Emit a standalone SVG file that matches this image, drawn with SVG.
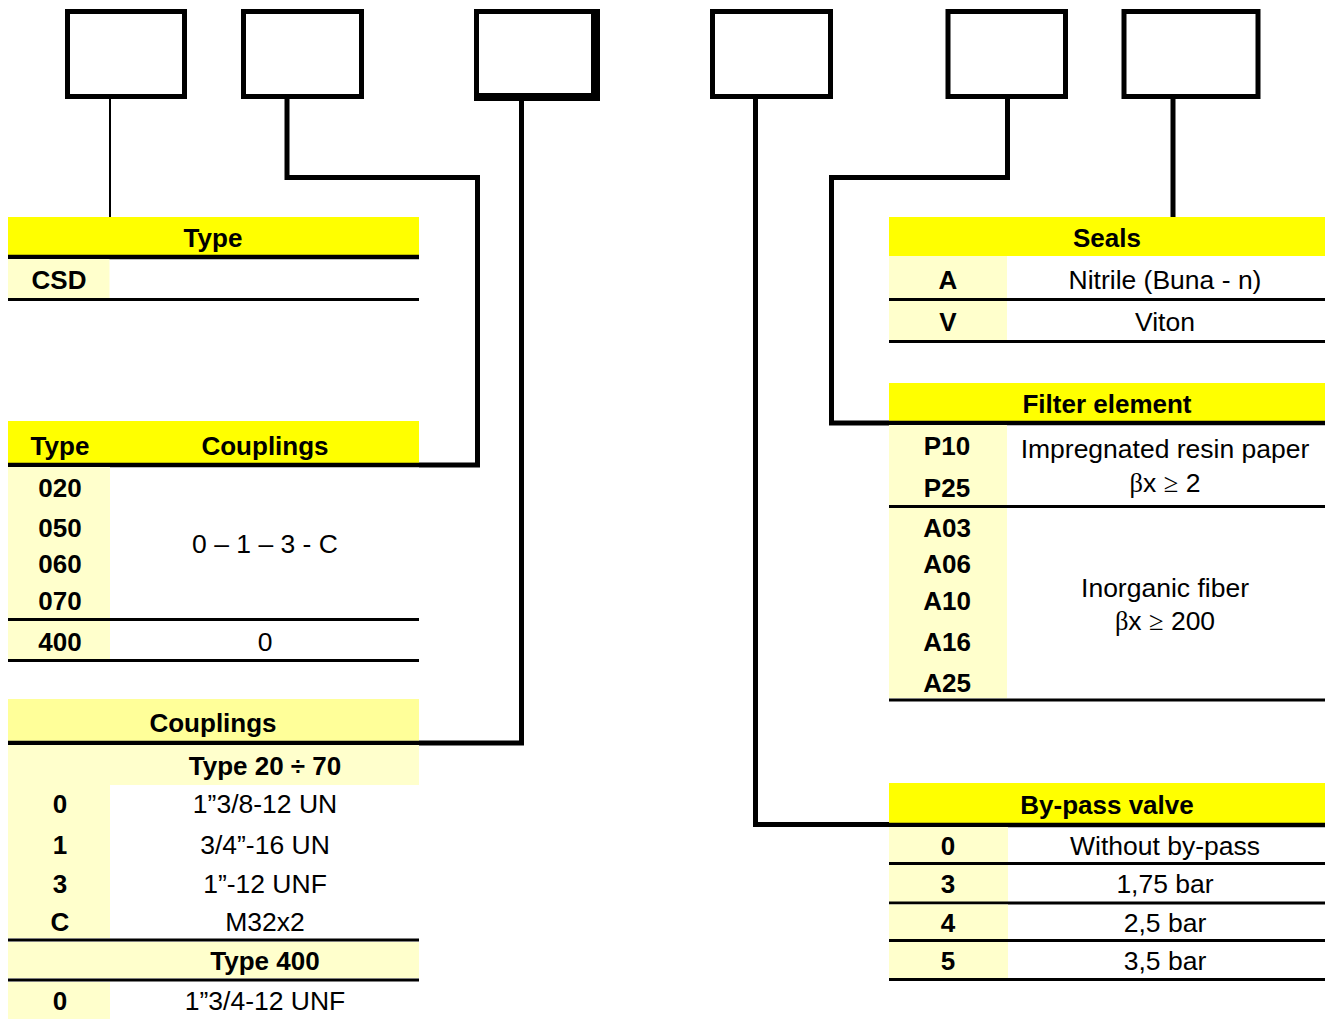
<svg xmlns="http://www.w3.org/2000/svg" width="1325" height="1019" viewBox="0 0 1325 1019">
<style>
.box{fill:#fff;stroke:#000;stroke-width:5}
.conn{fill:none;stroke:#000;stroke-width:5;stroke-linejoin:miter}
.thin{fill:none;stroke:#000;stroke-width:2}
.hdr{fill:#FFFF00}
.hdr2{fill:#FFFF99}
.key{fill:#FFFFCC}
.rule{stroke:#000;stroke-width:3}
.rule2{stroke:#000;stroke-width:4.5}
.t{font-family:"Liberation Sans",Arial,sans-serif;font-size:26.5px;fill:#000;text-anchor:middle}
.b{font-weight:bold;font-size:26px}
.s{font-family:"Liberation Serif","Times New Roman",serif}
</style>
<rect width="1325" height="1019" fill="#fff"/>

<g id="connectors">
<line class="thin" x1="110" y1="99" x2="110" y2="217"/>
<path class="conn" d="M287,99 V177.5 H477.5 V465 H419"/>
<path class="conn" d="M521.5,101 V743 H419"/>
<path class="conn" d="M755.5,99 V824.5 H889"/>
<path class="conn" d="M1007.5,99 V177.5 H831.5 V423 H889"/>
<path class="conn" d="M1173,99 V217"/>
</g>

<g id="box1"><rect class="box" x="67.5" y="11.5" width="117" height="85"/></g>
<g id="box2"><rect class="box" x="243.5" y="11.5" width="118" height="85"/></g>
<g id="box3"><rect x="474" y="9" width="126" height="92" fill="#000"/><rect x="479" y="14" width="112" height="79" fill="#fff"/></g>
<g id="box4"><rect class="box" x="712.5" y="11.5" width="118" height="85"/></g>
<g id="box5"><rect class="box" x="948" y="11.5" width="117.5" height="85"/></g>
<g id="box6"><rect class="box" x="1124" y="11.5" width="134" height="85"/></g>

<g id="table-type">
<rect class="hdr" x="8" y="217" width="411" height="38"/>
<line class="rule2" x1="8" y1="257" x2="419" y2="257"/>
<rect class="key" x="8" y="259" width="101.5" height="39"/>
<line class="rule" x1="8" y1="299.5" x2="419" y2="299.5"/>
<text class="t b" x="213" y="247">Type</text>
<text class="t b" x="59" y="289">CSD</text>
</g>

<g id="table-type-couplings">
<rect class="hdr" x="8" y="421" width="411" height="42"/>
<line class="rule2" x1="8" y1="465" x2="419" y2="465"/>
<rect class="key" x="8" y="467" width="102" height="151"/>
<line class="rule" x1="8" y1="619.5" x2="419" y2="619.5"/>
<rect class="key" x="8" y="621" width="102" height="38"/>
<line class="rule" x1="8" y1="660.5" x2="419" y2="660.5"/>
<text class="t b" x="60" y="455">Type</text>
<text class="t b" x="265" y="455">Couplings</text>
<text class="t b" x="60" y="497">020</text>
<text class="t b" x="60" y="537">050</text>
<text class="t b" x="60" y="573">060</text>
<text class="t b" x="60" y="610">070</text>
<text class="t" x="265" y="553">0 – 1 – 3 - C</text>
<text class="t b" x="60" y="651">400</text>
<text class="t" x="265" y="651">0</text>
</g>

<g id="table-couplings">
<rect class="hdr2" x="8" y="699" width="411" height="42"/>
<line class="rule2" x1="8" y1="743" x2="419" y2="743"/>
<rect class="key" x="8" y="745" width="411" height="40"/>
<rect class="key" x="8" y="785" width="102" height="153"/>
<line class="rule" x1="8" y1="940" x2="419" y2="940"/>
<rect class="key" x="8" y="942" width="411" height="36"/>
<line class="rule" x1="8" y1="980" x2="419" y2="980"/>
<rect class="key" x="8" y="982" width="102" height="37"/>
<text class="t b" x="213" y="732">Couplings</text>
<text class="t b" x="265" y="775">Type 20 ÷ 70</text>
<text class="t b" x="60" y="813">0</text>
<text class="t" x="265" y="813">1”3/8-12 UN</text>
<text class="t b" x="60" y="854">1</text>
<text class="t" x="265" y="854">3/4”-16 UN</text>
<text class="t b" x="60" y="893">3</text>
<text class="t" x="265" y="893">1”-12 UNF</text>
<text class="t b" x="60" y="931">C</text>
<text class="t" x="265" y="931">M32x2</text>
<text class="t b" x="265" y="970">Type 400</text>
<text class="t b" x="60" y="1010">0</text>
<text class="t" x="265" y="1010">1”3/4-12 UNF</text>
</g>

<g id="table-seals">
<rect class="hdr" x="889" y="217" width="436" height="39"/>
<rect class="key" x="889" y="256" width="118" height="42"/>
<line class="rule" x1="889" y1="299.5" x2="1325" y2="299.5"/>
<rect class="key" x="889" y="301" width="118" height="39"/>
<line class="rule" x1="889" y1="341.5" x2="1325" y2="341.5"/>
<text class="t b" x="1107" y="247">Seals</text>
<text class="t b" x="948" y="289">A</text>
<text class="t" x="1165" y="289">Nitrile (Buna - n)</text>
<text class="t b" x="948" y="331">V</text>
<text class="t" x="1165" y="331">Viton</text>
</g>

<g id="table-filter">
<rect class="hdr" x="889" y="383" width="436" height="38"/>
<line class="rule2" x1="889" y1="423" x2="1325" y2="423"/>
<rect class="key" x="889" y="425" width="118" height="80"/>
<line class="rule" x1="889" y1="506.5" x2="1325" y2="506.5"/>
<rect class="key" x="889" y="508" width="118" height="190"/>
<line class="rule" x1="889" y1="700" x2="1325" y2="700"/>
<text class="t b" x="1107" y="413">Filter element</text>
<text class="t b" x="947" y="455">P10</text>
<text class="t b" x="947" y="497">P25</text>
<text class="t" x="1165" y="458">Impregnated resin paper</text>
<text class="t" x="1165" y="492"><tspan class="s">β</tspan>x <tspan class="s">≥</tspan> 2</text>
<text class="t b" x="947" y="537">A03</text>
<text class="t b" x="947" y="573">A06</text>
<text class="t b" x="947" y="610">A10</text>
<text class="t b" x="947" y="651">A16</text>
<text class="t b" x="947" y="692">A25</text>
<text class="t" x="1165" y="597">Inorganic fiber</text>
<text class="t" x="1165" y="630"><tspan class="s">β</tspan>x <tspan class="s">≥</tspan> 200</text>
</g>

<g id="table-bypass">
<rect class="hdr" x="889" y="783" width="436" height="40"/>
<line class="rule2" x1="889" y1="825" x2="1325" y2="825"/>
<rect class="key" x="889" y="827" width="119" height="36"/>
<line class="rule" x1="889" y1="863.5" x2="1325" y2="863.5"/>
<rect class="key" x="889" y="865" width="119" height="37"/>
<line class="rule" x1="889" y1="903" x2="1325" y2="903"/>
<rect class="key" x="889" y="904.5" width="119" height="35"/>
<line class="rule" x1="889" y1="940.5" x2="1325" y2="940.5"/>
<rect class="key" x="889" y="942" width="119" height="37"/>
<line class="rule" x1="889" y1="979.5" x2="1325" y2="979.5"/>
<text class="t b" x="1107" y="814">By-pass valve</text>
<text class="t b" x="948" y="855">0</text>
<text class="t" x="1165" y="855">Without by-pass</text>
<text class="t b" x="948" y="893">3</text>
<text class="t" x="1165" y="893">1,75 bar</text>
<text class="t b" x="948" y="932">4</text>
<text class="t" x="1165" y="932">2,5 bar</text>
<text class="t b" x="948" y="970">5</text>
<text class="t" x="1165" y="970">3,5 bar</text>
</g>
</svg>
